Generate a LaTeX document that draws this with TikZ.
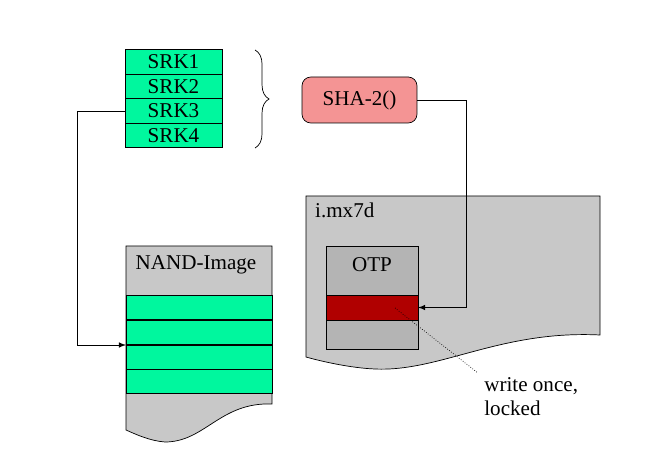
\documentclass[tikz,border=0pt]{standalone}
\usepackage{fontspec}
\setmainfont{Liberation Serif}
\usetikzlibrary{decorations.pathreplacing}
\definecolor{keygreen}{HTML}{00F79E}
\definecolor{boxgray}{HTML}{C8C8C8}
\definecolor{otpgray}{HTML}{B4B4B4}
\definecolor{otpred}{HTML}{B00000}
\definecolor{shapink}{HTML}{F49494}
\tikzset{
  cell/.style={draw, fill=keygreen, minimum width=1.94cm, minimum height=0.49cm, inner sep=0pt, font=\large},
  link/.style={-latex, thin}
}
\begin{document}
\begin{tikzpicture}[x=0.02cm,y=-0.02cm]
\useasboundingbox (0,0) rectangle (645,472);
% key table
\node[cell] (srk1) at (173.5,62) {SRK1};
\node[cell] (srk2) at (173.5,86.5) {SRK2};
\node[cell] (srk3) at (173.5,111) {SRK3};
\node[cell] (srk4) at (173.5,135.5) {SRK4};
\draw[decorate, decoration={brace, amplitude=8pt}] (255,50) -- (255,148);
\node[draw, rounded corners=5pt, fill=shapink, minimum width=2.3cm, minimum height=0.92cm, font=\large] (sha) at (359.5,100) {SHA-2()};

% chip
\draw[fill=boxgray] (306,196) -- (600,196) -- (600,335) .. controls (500,330) and (440,372) .. (375,369) .. controls (350,368) and (320,361) .. (306,357) -- cycle;
\node[anchor=west, font=\large] (chip) at (309,210) {i.mx7d};
\draw[fill=otpgray] (326,246) rectangle (418,349);
\node[font=\large] (otp) at (372,265) {OTP};
\draw[fill=otpred] (326,295) rectangle (418,320);
\coordinate (otpkey) at (418,307.5);

% image
\draw[fill=boxgray] (126,246) -- (272,246) -- (272,404) .. controls (220,402) and (205,442) .. (165,442) .. controls (150,441) and (135,434) .. (126,430) -- cycle;
\node[font=\large] (nand) at (196,265) {NAND-Image};
\foreach \y in {295,320,345,369}
  \draw[fill=keygreen] (126,\y) rectangle (272,\y+24.5);
\coordinate (nandkey) at (126,345);

% connectors
\draw[link] (sha.east) -- (466,100) |- (otpkey);
\draw[link] (srk3.west) -- (77,111) |- (nandkey);
\draw[densely dotted, thin] (395,308) -- (478,373);
\node[anchor=north west, align=left, font=\large, inner sep=0pt] (note) at (484,377) {write once,\\locked};
\end{tikzpicture}
\end{document}
